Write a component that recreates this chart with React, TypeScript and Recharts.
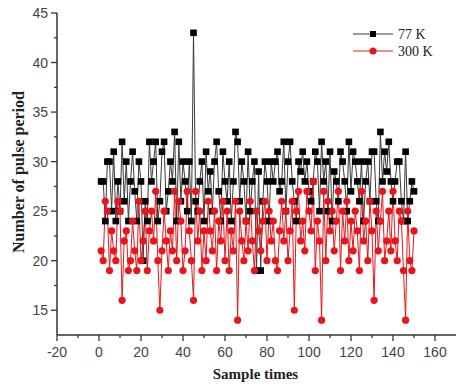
import { LineChart, Line, XAxis, YAxis } from "recharts";

// values, sample 1..150
const k77 = [
  28, 28, 24, 30, 30, 25, 31, 24, 28, 25,
  32, 26, 30, 24, 28, 31, 27, 24, 30, 28,
  20, 26, 24, 32, 28, 30, 32, 24, 26, 31,
  32, 25, 27, 30, 28, 33, 24, 32, 26, 30,
  28, 25, 30, 24, 43, 26, 25, 28, 30, 24,
  31, 27, 29, 25, 30, 32, 27, 24, 31, 28,
  26, 30, 24, 28, 33, 32, 26, 30, 28, 24,
  31, 25, 28, 30, 19, 29, 19, 26, 30, 28,
  24, 30, 28, 30, 31, 27, 28, 32, 25, 30,
  32, 28, 26, 24, 30, 29, 31, 28, 30, 27,
  26, 28, 31, 30, 25, 32, 28, 30, 25, 31,
  24, 29, 28, 26, 31, 30, 28, 25, 32, 27,
  31, 30, 28, 26, 30, 24, 28, 30, 26, 31,
  31, 26, 24, 33, 28, 31, 29, 32, 28, 26,
  28, 30, 30, 26, 24, 31, 24, 26, 28, 27,
];

const k300 = [
  21, 20, 26, 25, 19, 23, 21, 20, 26, 25,
  16, 22, 23, 19, 20, 24, 21, 19, 26, 20,
  22, 25, 19, 23, 25, 22, 27, 20, 15, 21,
  25, 22, 19, 23, 21, 27, 20, 26, 24, 19,
  21, 27, 23, 20, 16, 27, 22, 25, 19, 23,
  20, 26, 23, 21, 25, 19, 24, 22, 26, 20,
  25, 19, 23, 21, 26, 14, 25, 22, 20, 24,
  21, 26, 22, 19, 25, 23, 21, 24, 26, 20,
  25, 22, 24, 20, 19, 23, 26, 22, 25, 20,
  23, 26, 15, 25, 27, 22, 24, 21, 27, 25,
  23, 28, 19, 24, 22, 14, 27, 20, 26, 23,
  25, 21, 24, 27, 19, 25, 22, 26, 20, 24,
  21, 25, 23, 19, 27, 22, 24, 20, 26, 23,
  16, 25, 21, 24, 27, 20, 22, 25, 21, 27,
  22, 20, 25, 24, 19, 14, 25, 20, 19, 23,
];

const xTicks = [-20, -10, 0, 10, 20, 30, 40, 50, 60, 70, 80, 90, 100, 110, 120, 130, 140, 150, 160];
const yTicks = [15, 17.5, 20, 22.5, 25, 27.5, 30, 32.5, 35, 37.5, 40, 42.5, 45];

const data = k77.map((v, i) => ({ x: i + 1, a: v, b: k300[i] }));

const AXIS = "#333";
const tickFont = { fontFamily: "Liberation Sans, Arial, sans-serif", fontSize: 14, fill: "#444" };

function YTick({ x, y, payload }: any) {
  const major = payload.value % 5 === 0;
  return (
    <g>
      <line x1={x} x2={x - (major ? 6 : 3)} y1={y} y2={y} stroke={AXIS} strokeWidth={1.3} />
      {major && (
        <text x={x - 9} y={y} dy={5} textAnchor="end" {...tickFont}>
          {payload.value}
        </text>
      )}
    </g>
  );
}

function XTick({ x, y, payload }: any) {
  const major = payload.value % 20 === 0;
  return (
    <g>
      <line x1={x} x2={x} y1={y} y2={y + (major ? 6 : 3)} stroke={AXIS} strokeWidth={1.3} />
      {major && (
        <text x={x} y={y + 22} textAnchor="middle" {...tickFont}>
          {payload.value}
        </text>
      )}
    </g>
  );
}

function Square({ cx, cy }: any) {
  if (cx == null || cy == null) return null;
  return <rect x={cx - 3.3} y={cy - 3.3} width={6.6} height={6.6} fill="#000" />;
}

function Circle({ cx, cy }: any) {
  if (cx == null || cy == null) return null;
  return <circle cx={cx} cy={cy} r={3.6} fill="#e8161b" />;
}

export default function App() {
  return (
    <div style={{ position: "absolute", left: 0, top: 0, width: 456, height: 388, background: "#fff" }}>
      <LineChart width={456} height={388} data={data} margin={{ top: 13, right: 0, bottom: 0, left: 0 }}>
        <XAxis
          type="number"
          dataKey="x"
          domain={[-20, 170]}
          ticks={xTicks}
          interval={0}
          tick={<XTick />}
          tickSize={0}
          tickMargin={0}
          tickLine={false}
          axisLine={{ stroke: AXIS, strokeWidth: 1.5 }}
          height={53}
        />
        <XAxis
          xAxisId="top"
          orientation="top"
          type="number"
          dataKey="x"
          domain={[-20, 170]}
          tick={false}
          tickLine={false}
          height={0}
          axisLine={{ stroke: AXIS, strokeWidth: 1.5 }}
        />
        <YAxis
          type="number"
          domain={[12.5, 45]}
          ticks={yTicks}
          interval={0}
          tick={<YTick />}
          tickSize={0}
          tickMargin={0}
          tickLine={false}
          axisLine={{ stroke: AXIS, strokeWidth: 1.5 }}
          width={57}
        />
        <Line
          dataKey="a"
          stroke="#3a3a3a"
          strokeWidth={1}
          dot={<Square />}
          isAnimationActive={false}
        />
        <Line
          dataKey="b"
          stroke="#e8161b"
          strokeWidth={1}
          dot={<Circle />}
          isAnimationActive={false}
        />
      </LineChart>
      <div
        style={{
          position: "absolute",
          left: 8,
          top: 172,
          transform: "translate(-50%, -50%) rotate(-90deg)",
          transformOrigin: "center",
          whiteSpace: "nowrap",
          fontFamily: "Liberation Serif, Times New Roman, serif",
          fontWeight: "bold",
          fontSize: 16,
          color: "#222",
          marginLeft: 11,
        }}
      >
        Number of pulse period
      </div>
      <div
        style={{
          position: "absolute",
          left: 0,
          width: 456,
          top: 366,
          paddingLeft: 55,
          boxSizing: "border-box",
          textAlign: "center",
          fontFamily: "Liberation Serif, Times New Roman, serif",
          fontWeight: "bold",
          fontSize: 15,
          color: "#222",
        }}
      >
        Sample times
      </div>
      <svg style={{ position: "absolute", left: 350, top: 25 }} width={100} height={36}>
        <line x1={3} x2={43} y1={9} y2={9} stroke="#3a3a3a" strokeWidth={1} />
        <rect x={20} y={6} width={6} height={6} fill="#000" />
        <text x={48} y={14} fontFamily="Liberation Serif, Times New Roman, serif" fontSize={14} fill="#222">
          77 K
        </text>
        <line x1={3} x2={43} y1={26} y2={26} stroke="#e8161b" strokeWidth={1} />
        <circle cx={23} cy={26} r={3.5} fill="#e8161b" />
        <text x={48} y={31} fontFamily="Liberation Serif, Times New Roman, serif" fontSize={14} fill="#222">
          300 K
        </text>
      </svg>
    </div>
  );
}
